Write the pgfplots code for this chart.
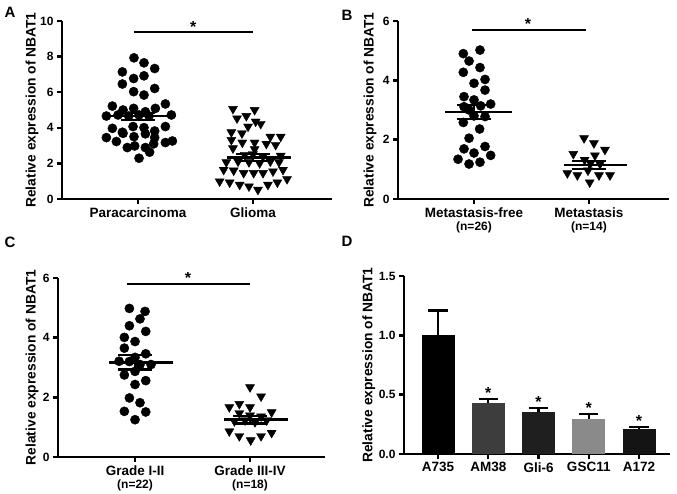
\documentclass[border=0pt]{standalone}
\usepackage{pgfplots}
\pgfplotsset{compat=1.18}
\usepackage{fontspec}
\setmainfont{Liberation Sans}
\begin{document}
\begin{tikzpicture}
\pgfplotsset{
 gp/.style={scale only axis, axis x line*=bottom, axis y line*=left,
  axis line style={line width=2.8pt},
  every tick/.style={line width=2.4pt, black},
  major tick length=5pt, tick align=outside, ymin=0, clip=false,
  /pgf/number format/assume math mode=true,
  yticklabel style={font=\bfseries\fontsize{12}{13}\selectfont},
  xticklabel style={font=\bfseries\fontsize{13.5}{13}\selectfont, align=center},
  ylabel={Relative expression of NBAT1},
  ylabel style={font=\bfseries\fontsize{13.8}{14}\selectfont, anchor=center, rotate=0},
  xtick={1,2}},
 dots/.style={only marks, mark=*, mark size=4.6pt, black},
 tris/.style={only marks, mark=triangle*, mark size=5.2pt, mark options={rotate=180}, black},
 meanline/.style={black, line width=2.5pt, mark=none},
 eb/.style={black, line width=2.2pt, mark=none},
 sigline/.style={black, line width=2.2pt, mark=none},
}
\tikzset{star/.style={font=\bfseries\fontsize{16}{16}\selectfont, anchor=base, inner sep=0pt}}
\useasboundingbox (0,0) rectangle (677pt,-494pt);
\node[font=\bfseries\fontsize{15}{15}\selectfont, anchor=center] at (10pt,-12pt) {A};
\node[font=\bfseries\fontsize{15}{15}\selectfont, anchor=center] at (347pt,-15pt) {B};
\node[font=\bfseries\fontsize{15}{15}\selectfont, anchor=center] at (10pt,-242pt) {C};
\node[font=\bfseries\fontsize{15}{15}\selectfont, anchor=center] at (347pt,-241pt) {D};

% ---------------- A
\begin{axis}[gp, at={(62pt,-199pt)}, anchor=south west, width=270pt, height=178pt,
  xmin=0.339, xmax=2.687, ymax=10, ytick={0,2,4,6,8,10},
  xticklabels={Paracarcinoma,Glioma},
  ylabel style={at={(axis description cs:-0.111,0.5)}}]
\addplot[dots] coordinates {
(0.965,7.93)(1.052,7.65)(0.864,7.14)(1.145,7.33)(0.962,6.77)(1.052,6.92)
(0.864,6.46)(0.962,6.03)(1.145,6.21)(1.052,5.84)(0.777,5.22)(0.870,5.00)
(0.962,5.09)(1.064,4.90)(1.151,5.09)(1.238,5.34)(0.725,4.66)(0.826,4.72)
(0.919,4.66)(1.009,4.72)(1.096,4.66)(1.290,4.72)(0.777,3.97)(0.864,3.75)
(0.957,4.07)(1.052,4.01)(1.145,3.82)(1.238,4.07)(0.725,3.45)(0.812,3.23)
(0.870,3.69)(0.965,3.50)(1.064,3.66)(1.145,3.45)(1.238,3.17)(1.299,3.26)
(0.907,2.89)(0.971,2.98)(1.064,2.89)(1.136,3.10)(1.009,2.29)(1.101,2.63)};
\addplot[tris] coordinates {
(1.826,5.06)(2.014,5.00)(1.861,4.53)(1.942,4.66)(2.023,4.35)(1.957,4.07)
(2.067,4.22)(1.812,3.75)(1.904,3.69)(2.151,3.50)(2.241,3.50)(1.812,3.32)
(1.907,3.17)(2.014,3.17)(2.116,3.10)(2.197,3.04)(1.826,2.85)(2.014,2.80)
(1.928,2.48)(2.000,2.52)(2.087,2.39)(2.241,2.43)(1.768,2.07)(1.870,2.11)
(1.965,2.07)(2.058,2.01)(2.151,2.11)(2.226,2.07)(1.745,1.64)(1.832,1.60)
(1.919,1.46)(2.006,1.46)(2.087,1.46)(2.174,1.55)(2.261,1.64)(1.710,0.99)
(1.797,0.93)(1.884,0.80)(1.965,0.71)(2.043,0.52)(2.130,0.80)(2.212,0.93)
(2.296,1.12)};
% mean and SEM
\addplot[meanline] coordinates {(0.70,4.65)(1.33,4.65)};
\addplot[eb] coordinates {(1.0,4.46)(1.0,4.84)};
\addplot[eb] coordinates {(0.85,4.84)(1.15,4.84)};
\addplot[eb] coordinates {(0.85,4.46)(1.15,4.46)};
\addplot[meanline] coordinates {(1.77,2.33)(2.33,2.33)};
\addplot[eb] coordinates {(2.0,2.13)(2.0,2.53)};
\addplot[eb] coordinates {(1.85,2.53)(2.15,2.53)};
\addplot[eb] coordinates {(1.85,2.13)(2.15,2.13)};
\addplot[sigline] coordinates {(0.965,9.38)(2.0,9.38)};
\node[star] at (axis cs:1.48,9.38) {*};
\end{axis}

% ---------------- B
\begin{axis}[gp, at={(398pt,-199pt)}, anchor=south west, width=271pt, height=178pt,
  xmin=0.339, xmax=2.696, ymax=6, ytick={0,2,4,6},
  xticklabels={Metastasis-free\\{\fontsize{12}{12}\selectfont(n=26)},Metastasis\\{\fontsize{12}{12}\selectfont(n=14)}},
  ylabel style={at={(axis description cs:-0.103,0.5)}}]
\addplot[dots] coordinates {
(0.907,4.90)(1.052,5.02)(0.957,4.65)(1.052,4.43)(0.907,4.27)(1.000,3.90)
(1.096,4.03)(1.096,3.67)(0.913,3.45)(1.000,3.34)(0.913,3.11)(1.058,3.14)
(1.145,3.20)(0.957,3.00)(1.000,2.80)(1.096,2.78)(0.907,2.58)(1.049,2.36)
(0.957,2.05)(0.913,1.69)(1.096,1.77)(1.000,1.55)(1.145,1.47)(0.861,1.34)
(0.957,1.18)(1.052,1.24)};
\addplot[tris] coordinates {
(1.957,2.05)(2.043,1.88)(2.139,1.66)(1.864,1.52)(1.962,1.32)(2.052,1.47)
(2.014,1.21)(2.096,1.18)(1.812,0.87)(1.899,0.80)(1.991,0.96)(2.087,0.80)
(2.183,0.80)(2.006,0.56)};
\addplot[meanline] coordinates {(0.75,2.93)(1.33,2.93)};
\addplot[eb] coordinates {(1.0,2.69)(1.0,3.17)};
\addplot[eb] coordinates {(0.85,3.17)(1.15,3.17)};
\addplot[eb] coordinates {(0.85,2.69)(1.15,2.69)};
\addplot[meanline] coordinates {(1.78,1.14)(2.33,1.14)};
\addplot[eb] coordinates {(2.0,1.00)(2.0,1.28)};
\addplot[eb] coordinates {(1.85,1.28)(2.15,1.28)};
\addplot[eb] coordinates {(1.85,1.00)(2.15,1.00)};
\addplot[sigline] coordinates {(0.985,5.71)(1.97,5.71)};
\node[star] at (axis cs:1.47,5.71) {*};
\end{axis}

% ---------------- C
\begin{axis}[gp, at={(58pt,-457pt)}, anchor=south west, width=267pt, height=179pt,
  xmin=0.33, xmax=2.652, ymax=6, ytick={0,2,4,6},
  xticklabels={Grade I-II\\{\fontsize{12}{12}\selectfont(n=22)},Grade III-IV\\{\fontsize{12}{12}\selectfont(n=18)}},
  ylabel style={at={(axis description cs:-0.097,0.5)}}]
\addplot[dots] coordinates {
(0.951,4.98)(1.087,4.88)(1.043,4.63)(0.951,4.40)(1.093,4.21)(0.907,4.01)
(1.000,3.87)(0.907,3.65)(1.093,3.46)(1.000,3.34)(0.861,3.21)(0.951,3.20)
(1.043,3.10)(1.139,3.10)(0.907,2.75)(1.000,2.87)(1.093,2.56)(1.000,2.43)
(0.951,1.98)(1.043,1.82)(0.907,1.53)(1.093,1.51)(1.000,1.25)};
\addplot[tris] coordinates {
(2.000,2.34)(2.096,2.03)(1.820,1.67)(1.907,1.78)(2.000,1.67)(1.907,1.47)
(2.000,1.39)(2.096,1.36)(2.188,1.50)(1.864,1.20)(1.957,1.23)(2.043,1.17)
(2.145,1.23)(1.820,0.86)(1.907,0.70)(2.006,0.56)(2.096,0.70)(2.188,0.81)};
\addplot[meanline] coordinates {(0.77,3.17)(1.33,3.17)};
\addplot[eb] coordinates {(1.0,2.93)(1.0,3.41)};
\addplot[eb] coordinates {(0.85,3.41)(1.15,3.41)};
\addplot[eb] coordinates {(0.85,2.93)(1.15,2.93)};
\addplot[meanline] coordinates {(1.77,1.25)(2.33,1.25)};
\addplot[eb] coordinates {(2.0,1.12)(2.0,1.38)};
\addplot[eb] coordinates {(1.85,1.38)(2.15,1.38)};
\addplot[eb] coordinates {(1.85,1.12)(2.15,1.12)};
\addplot[sigline] coordinates {(0.93,5.80)(2.0,5.80)};
\node[star] at (axis cs:1.46,5.80) {*};
\end{axis}

% ---------------- D
\begin{axis}[gp, at={(404pt,-454pt)}, anchor=south west, width=266pt, height=178pt,
  xmin=-0.677, xmax=4.617, ymax=1.5, ytick={0,0.5,1,1.5},
  yticklabel style={/pgf/number format/.cd, fixed, fixed zerofill, precision=1},
  xtick={0,1,2,3,4}, xticklabels={A735,AM38,Gli-6,GSC11,A172},
  ylabel style={at={(axis description cs:-0.132,0.5)}}]
% error bars (upper only), drawn first
\addplot[eb] coordinates {(0,1.0)(0,1.21)};
\addplot[eb] coordinates {(-0.19,1.21)(0.19,1.21)};
\addplot[eb] coordinates {(1,0.427)(1,0.461)};
\addplot[eb] coordinates {(0.81,0.461)(1.19,0.461)};
\addplot[eb] coordinates {(2,0.357)(2,0.385)};
\addplot[eb] coordinates {(1.81,0.385)(2.19,0.385)};
\addplot[eb] coordinates {(3,0.292)(3,0.334)};
\addplot[eb] coordinates {(2.81,0.334)(3.19,0.334)};
\addplot[eb] coordinates {(4,0.208)(4,0.225)};
\addplot[eb] coordinates {(3.81,0.225)(4.19,0.225)};
\addplot[ybar, bar width=33pt, bar shift=0pt, fill=black, draw=none] coordinates {(0,1.0)};
\addplot[ybar, bar width=33pt, bar shift=0pt, fill=black!76, draw=none] coordinates {(1,0.427)};
\addplot[ybar, bar width=33pt, bar shift=0pt, fill=black!88, draw=none] coordinates {(2,0.357)};
\addplot[ybar, bar width=33pt, bar shift=0pt, fill=black!46, draw=none] coordinates {(3,0.292)};
\addplot[ybar, bar width=33pt, bar shift=0pt, fill=black!92, draw=none] coordinates {(4,0.208)};
\node[star] at (axis cs:1,0.470) {*};
\node[star] at (axis cs:2,0.394) {*};
\node[star] at (axis cs:3,0.343) {*};
\node[star] at (axis cs:4,0.234) {*};
\end{axis}
\end{tikzpicture}
\end{document}
